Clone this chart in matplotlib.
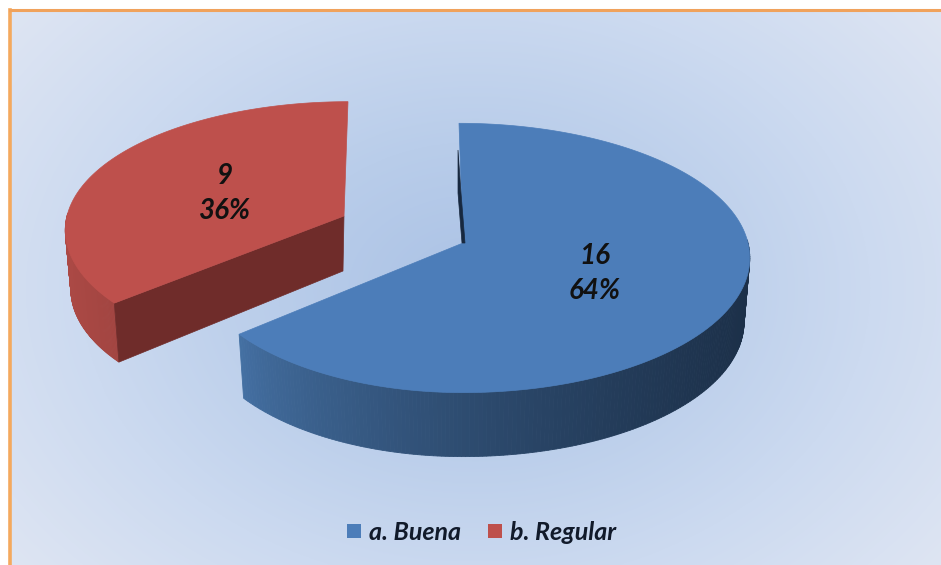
import numpy as np
import matplotlib.pyplot as plt
from matplotlib.colors import LinearSegmentedColormap, to_rgb
from matplotlib.patches import Polygon, Rectangle

# Data
categories = ["a. Buena", "b. Regular"]
values = [16, 9]
colors = ["#4c7db9", "#be504c"]

W, H = 941, 565
# Pie geometry in pixels
rx, ry, k = 285, 133, 0.111
depths = [64, 59]
centers = [(463, 243), (344, 216)]
left_rx = [270, 277]   # left half is a bit narrower in the original
scale_y = [1.0, 0.955]
lean = [-4, 4]         # far end of the cut edge tilts
label_pos = [(595, 274), (225, 194)]


def project(ang, i):
    # fake perspective: far side of the pie is squeezed a bit
    cx, cy = centers[i]
    u, v = np.cos(ang), np.sin(ang)
    rad = np.where(u < 0, left_rx[i], rx)
    x = cx + rad * u / (1 + k * v) + lean[i] * np.clip(v, 0, 1) ** 3
    y = cy - ry * scale_y[i] * v / (1 + k * v)
    return x, y


def drop(x, cx):
    # bottom rim, pulled slightly to the centre
    return x + (cx - x) * 0.02


def mix(a, b, t):
    a, b = np.array(to_rgb(a)), np.array(to_rgb(b))
    return tuple(a + (b - a) * t)


fig = plt.figure(figsize=(W / 100, H / 100), dpi=100)
ax = fig.add_axes([0, 0, 1, 1])
ax.set_xlim(0, W)
ax.set_ylim(H, 0)
ax.axis("off")

# Background: radial gradient inside the orange frame
yy, xx = np.mgrid[0:H, 0:W]
dist = np.hypot((xx - 470) / 600, (yy - 285) / 450)
bg_cmap = LinearSegmentedColormap.from_list(
    "bg", ["#abc2e5", "#b9cdea", "#ccdaf0", "#dee5f3"])
ax.imshow(np.clip(dist, 0, 1), cmap=bg_cmap, vmin=0, vmax=1,
          extent=[10, W, H, 9], aspect="auto", zorder=0, interpolation="bilinear")
ax.add_patch(Rectangle((0, 0), W, 9, color="white", zorder=1, lw=0))
ax.add_patch(Rectangle((0, 0), 10, H, color="white", zorder=1, lw=0))
ax.plot([10.5, 10.5], [H, 9.5], color="#f4a95e", lw=2.6, zorder=2)
ax.plot([10, W], [9.5, 9.5], color="#f0a25c", lw=2.2, zorder=2)

total = sum(values)
start = np.pi / 2
for i, val in enumerate(values):
    sweep = 2 * np.pi * val / total
    end = start - sweep
    cx, cy = centers[i]
    depth = depths[i]
    ang = np.linspace(start, end, 300)
    px, py = project(ang, i)

    # outer wall, only the front half shows
    if i == 0:
        # blue goes dark towards the right
        left, right = "#4571a4", "#1c3049"
        lo, hi = px.min(), px.max()
    else:
        left, right = "#ab4945", "#a24541"
        lo, hi = px.min(), px.min() + 50
    for j in range(len(ang) - 1):
        if np.sin((ang[j] + ang[j + 1]) / 2) > 0.02:
            continue
        t = np.clip((px[j] - lo) / (hi - lo), 0, 1)
        if i == 0:
            t = t ** 0.7
        col = mix(left, right, t)
        ax.add_patch(Polygon(
            [(px[j], py[j]), (px[j + 1], py[j + 1]),
             (drop(px[j + 1], cx), py[j + 1] + depth), (drop(px[j], cx), py[j] + depth)],
            closed=True, fc=col, ec=col, lw=0.6, zorder=3))

    # cut faces
    if i == 0:
        # only a thin dark sliver shows next to the far edge
        ax.add_patch(Polygon(
            [(cx - 5, cy - 93), (cx - 5, cy - 50), (cx - 1, cy), (cx + 2, cy),
             (cx - 2, cy - 50)],
            closed=True, fc="#17283f", ec="#17283f", lw=0.5, zorder=4.5))
    else:
        ax.add_patch(Polygon(
            [(cx, cy), (px[0], py[0]), (drop(px[0], cx), py[0] + depth),
             (cx - 1, cy + 55)],
            closed=True, fc="#6f2c2a", ec="#6f2c2a", lw=0.5, zorder=3.5))

    # top surface
    ax.add_patch(Polygon(
        np.vstack([[cx, cy], np.column_stack([px, py])]),
        closed=True, fc=colors[i], ec=colors[i], lw=0.5, zorder=4))

    pct = round(100 * val / total)
    lx, ly = label_pos[i]
    for txt, dy in [(str(val), -18), (f"{pct}%", 17)]:
        ax.text(lx, ly + dy, txt, ha="center", va="center", fontsize=20,
                family="Lato", weight="bold", style="italic",
                color="#111111", zorder=5)
    start = end

# Legend
legend_x = [354, 495]
for name, col, lx in zip(categories, colors, legend_x):
    ax.add_patch(Rectangle((lx - 7, 524), 14, 14, fc=col, ec="none", zorder=5))
    ax.text(lx + 15, 532, name, ha="left", va="center", fontsize=18,
            family="Lato", weight="bold", style="italic",
            color="#111a2a", zorder=5)

fig.savefig("out.png", dpi=100)
